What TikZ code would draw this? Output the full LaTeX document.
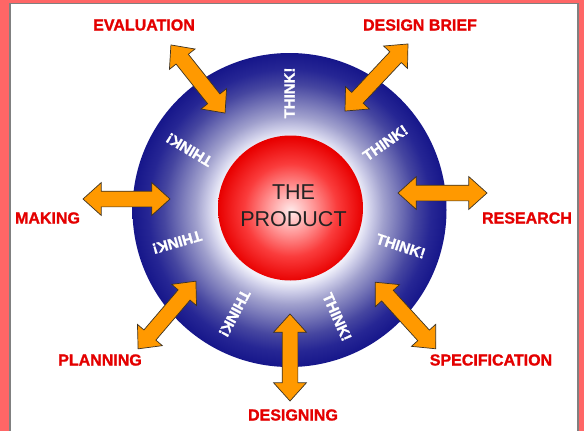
\documentclass[tikz,border=0pt]{standalone}
\usepackage{fontspec}
\setmainfont{Liberation Sans}[BoldFont={Liberation Sans Bold}]
\newfontfamily\heavysans{Liberation Sans Bold}[FakeBold=1.2]
\usetikzlibrary{shapes.arrows}
\definecolor{bgsalmon}{RGB}{255,102,102}
\definecolor{framegray}{RGB}{128,128,128}
\definecolor{labelred}{RGB}{228,0,0}
\definecolor{arroworange}{RGB}{255,153,0}
\definecolor{arrowedge}{RGB}{60,50,35}
\definecolor{prodtext}{RGB}{35,35,35}
\definecolor{bdA}{RGB}{240,240,250}
\definecolor{bdB}{RGB}{205,205,232}
\definecolor{bdC}{RGB}{160,160,205}
\definecolor{bdD}{RGB}{115,115,182}
\definecolor{bdE}{RGB}{70,70,160}
\definecolor{bdF}{RGB}{38,38,148}
\definecolor{bdG}{RGB}{22,22,138}
\definecolor{rdA}{RGB}{255,236,236}
\definecolor{rdB}{RGB}{255,150,150}
\definecolor{rdC}{RGB}{250,60,60}
\definecolor{rdD}{RGB}{232,0,0}
\pgfdeclareradialshading{bigdisc}{\pgfpoint{0bp}{0bp}}{color(0bp)=(bdA); color(11.5bp)=(bdA); color(13bp)=(bdB); color(15bp)=(bdC); color(17.5bp)=(bdD); color(20bp)=(bdE); color(22.5bp)=(bdF); color(25bp)=(bdG); color(50bp)=(bdG)}
\pgfdeclareradialshading{reddisc}{\pgfpoint{0bp}{-1bp}}{color(0bp)=(rdA); color(8bp)=(rdB); color(16bp)=(rdC); color(25bp)=(rdD); color(50bp)=(rdD)}
\tikzset{
  lbl/.style={text=labelred, font=\fontsize{16}{19}\selectfont\heavysans, inner sep=0pt},
  dblarrow/.style={double arrow, draw=arrowedge, fill=arroworange, line width=0.7pt,
    double arrow head extend=8.5pt, double arrow tip angle=84,
    inner xsep=0pt, inner ysep=7.5pt},
  think/.style={text=white, font=\fontsize{15}{18}\selectfont\heavysans, inner sep=0pt}
}
\begin{document}
\begin{tikzpicture}[x=1pt,y=-1pt]
\useasboundingbox (0,0) rectangle (584,431);
\fill[bgsalmon] (0,0) rectangle (584,431);
\draw[framegray, fill=white, line width=1.6pt] (10,3.5) rectangle (578,450);
% discs
\node[circle, minimum size=314pt, inner sep=0pt, shading=bigdisc] (disc) at (289.5,210) {};
\node[circle, minimum size=145pt, inner sep=0pt, shading=reddisc] (core) at (290.5,208) {};
\node[font=\fontsize{21.5}{27}\selectfont, text=prodtext, align=center, inner sep=0pt] (prod) at (293.5,206) {THE\\PRODUCT};
% THINK! labels
\path (disc.center) ++(90:117pt) node[think, rotate=90] (t1) {THINK!};
\path (disc.center) ++(35:117pt) node[think, rotate=35] (t2) {THINK!};
\path (disc.center) ++(-18:117pt) node[think, rotate=-18] (t3) {THINK!};
\path (disc.center) ++(-66:117pt) node[think, rotate=-66] (t4) {THINK!};
\path (disc.center) ++(-118:117pt) node[think, rotate=-118] (t5) {THINK!};
\path (disc.center) ++(196:117pt) node[think, rotate=196] (t6) {THINK!};
\path (disc.center) ++(149:117pt) node[think, rotate=149] (t7) {THINK!};
% arrows
\node[dblarrow, minimum height=87pt, rotate=-51.5] (aeval) at (198,79) {};
\node[dblarrow, minimum height=92pt, rotate=46.8] (abrief) at (376.5,77.5) {};
\node[dblarrow, minimum height=87pt] (amaking) at (126.5,199) {};
\node[dblarrow, minimum height=89pt] (aresearch) at (442.5,193) {};
\node[dblarrow, minimum height=89pt, rotate=49.5] (aplanning) at (167,315) {};
\node[dblarrow, minimum height=90pt, rotate=-47.7] (aspec) at (405.5,315.5) {};
\node[dblarrow, minimum height=87pt, rotate=90] (adesigning) at (290,357.5) {};
% labels
\node[lbl] (evaluation) at (144,25) {EVALUATION};
\node[lbl] (designbrief) at (420,25) {DESIGN BRIEF};
\node[lbl] (making) at (47.5,218) {MAKING};
\node[lbl] (research) at (527,218) {RESEARCH};
\node[lbl] (planning) at (100,360) {PLANNING};
\node[lbl] (specification) at (491,360) {SPECIFICATION};
\node[lbl] (designing) at (293,415) {DESIGNING};
\end{tikzpicture}
\end{document}
